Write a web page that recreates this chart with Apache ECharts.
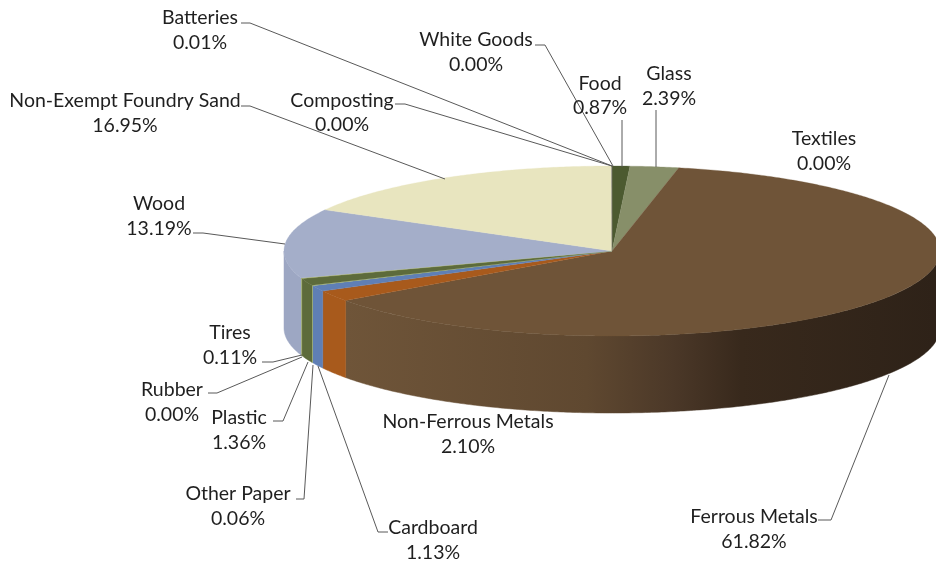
<!DOCTYPE html>
<html><head><meta charset="utf-8">
<style>html,body{margin:0;padding:0;background:#fff}#c{width:936px;height:561px}</style>
<script src="https://cdn.jsdelivr.net/npm/echarts@6/dist/echarts.min.js"></script>
</head><body><div id="c"></div>
<script>
// Data, clockwise from 12 o'clock
const categories = ['White Goods','Food','Glass','Textiles','Ferrous Metals','Non-Ferrous Metals','Cardboard','Other Paper','Plastic','Rubber','Tires','Wood','Non-Exempt Foundry Sand','Composting','Batteries'];
const shares = [0.00,0.87,2.39,0.00,61.82,2.10,1.13,0.06,1.36,0.00,0.11,13.19,16.95,0.00,0.01];
const topColors = ['#8a8a5a','#4c5a30','#878f69','#7a6a40','#6f5438','#a85a1c','#5f7fb5','#b4c47e','#5d6b3b','#777777','#a7b25f','#a4aec9','#e8e5bf','#b9c48d','#555555'];

// Layout, kept apart from the data
const pieGeom = {cx:612, cy:251, rx:328, ry:85, depth:77};
const labelCenters = [[476,40,65],[600,84,108],[669,74,99],[824,139,164],[754,517,542],[468,422,447],[433,528,553],[238,494,519],[239,418,443],[172,390,415],[230,333,358],[159,204,229],[125,101,126],[342,101,125],[200,18,43]];
const leaders = [
 [[535,45],[545,45],[613,166]],
 [[622,120],[622,167]],
 [[656,110],[656,167]],
 null,
 [[818,520],[831,520],[889,375]],
 null,
 [[388,532],[378,532],[318,366]],
 [[296,499],[304,499],[313,365]],
 [[273,421],[283,421],[308,362]],
 [[208,393],[217,393],[302,357]],
 [[262,362],[273,362],[302,355]],
 [[193,233],[203,233],[285,244]],
 [[241,106],[250,106],[445,179]],
 [[395,104],[405,104],[612,166]],
 [[241,23],[250,23],[612,166]]
];
const fmt = v => v.toFixed(2) + '%';
const total = shares.reduce((a,b)=>a+b,0);
const angles = []; { let acc=0; shares.forEach(v=>{angles.push([acc/total*2*Math.PI,(acc+v)/total*2*Math.PI]);acc+=v;}); }
const G = pieGeom;
const P = (a,dy=0)=>[G.cx+G.rx*Math.sin(a), G.cy-G.ry*Math.cos(a)+dy];
function arc(a0,a1,dy){const n=Math.max(2,Math.ceil((a1-a0)/0.01));const o=[];for(let i=0;i<=n;i++)o.push(P(a0+(a1-a0)*i/n,dy));return o;}
function sideFill(i){
  if(categories[i]==='Ferrous Metals'){
    return {type:'linear',x:345,y:0,x2:936,y2:0,global:true,colorStops:[
      {offset:0,color:'#6f5539'},{offset:0.41,color:'#5f4830'},{offset:0.555,color:'#4b3828'},{offset:0.67,color:'#38291c'},{offset:1,color:'#2e2218'}]};
  }
  if(categories[i]==='Wood') return '#9da7c3';
  return topColors[i];
}
function renderSlice(params,api){
  const i=params.dataIndex, [a0,a1]=angles[i], kids=[];
  if(a1>a0){
    const s0=Math.max(a0,Math.PI/2), s1=Math.min(a1,3*Math.PI/2);
    if(s1>s0){
      const top=arc(s0,s1,0), bot=arc(s0,s1,G.depth).reverse();
      kids.push({type:'polygon',z2:1,shape:{points:top.concat(bot)},style:{fill:sideFill(i),stroke:sideFill(i),lineWidth:0.5}});
    }
    kids.push({type:'polygon',z2:2,shape:{points:[[G.cx,G.cy]].concat(arc(a0,a1,0))},style:{fill:topColors[i],stroke:topColors[i],lineWidth:0.3}});
  }
  return {type:'group',children:kids};
}
function renderLabel(params,api){
  const i=params.dataIndex, kids=[], c=labelCenters[i], l=leaders[i];
  if(l) kids.push({type:'polyline',z2:5,shape:{points:l},style:{fill:null,stroke:'#595959',lineWidth:1}});
  const st={fontFamily:'Lato, "Open Sans", sans-serif',fontSize:19.5,fill:'#1f1f1f',align:'center',verticalAlign:'middle'};
  kids.push({type:'text',z2:6,style:Object.assign({},st,{x:c[0],y:c[1],text:categories[i]})});
  kids.push({type:'text',z2:6,style:Object.assign({},st,{x:c[0],y:c[2],text:fmt(shares[i])})});
  return {type:'group',children:kids};
}
const chart=echarts.init(document.getElementById('c'),null,{renderer:'canvas'});
const rows=categories.map((n,i)=>({name:n,value:shares[i]}));
chart.setOption({
  animation:false,
  backgroundColor:'#fff',
  series:[
   {type:'custom',coordinateSystem:'none',renderItem:renderSlice,data:rows,silent:true,z:2},
   {type:'custom',coordinateSystem:'none',renderItem:renderLabel,data:rows,silent:true,z:3}
  ]
});
</script></body></html>
